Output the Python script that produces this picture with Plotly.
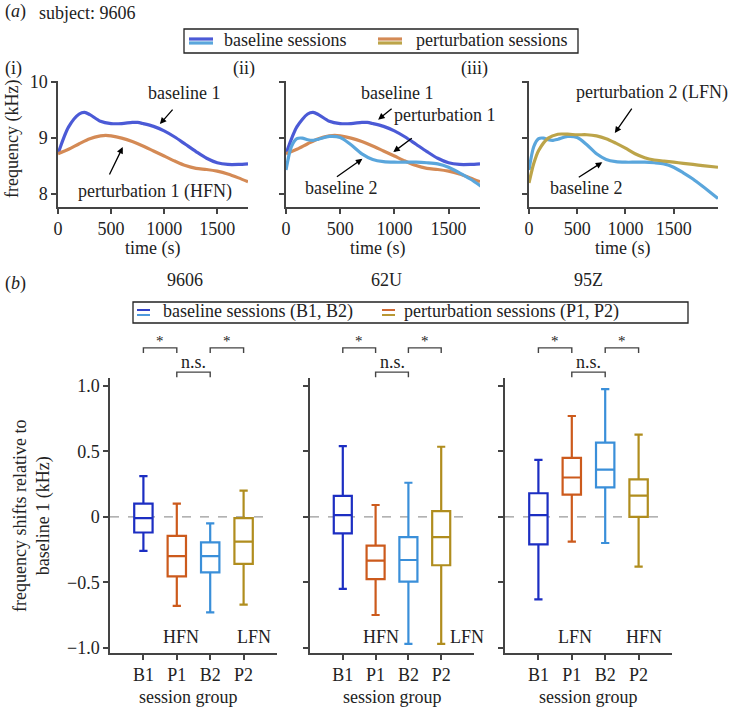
import plotly.graph_objects as go

W, H = 734, 708

# ---- (a) smoothed call frequency over a session, subject 9606 ----
t_b1 = [0, 100, 200, 250, 300, 400, 500, 600, 700, 750, 800, 900, 1000, 1100, 1200, 1300, 1400, 1500, 1600, 1700, 1790]
f_b1 = [8.72, 9.20, 9.43, 9.46, 9.42, 9.30, 9.26, 9.26, 9.28, 9.28, 9.26, 9.21, 9.13, 9.02, 8.89, 8.76, 8.64, 8.56, 8.53, 8.53, 8.54]

t_p1 = [0, 100, 200, 300, 400, 450, 500, 600, 700, 800, 900, 1000, 1100, 1200, 1300, 1400, 1500, 1600, 1700, 1790]
f_p1 = [8.72, 8.80, 8.90, 8.99, 9.04, 9.05, 9.04, 9.00, 8.94, 8.86, 8.77, 8.68, 8.59, 8.51, 8.46, 8.44, 8.41, 8.36, 8.29, 8.22]

t_b2 = [0, 50, 100, 150, 200, 250, 300, 400, 500, 600, 700, 800, 900, 1000, 1100, 1200, 1300, 1400, 1500, 1600, 1700, 1800, 1960]
f_b2 = [8.43, 8.85, 8.99, 9.00, 8.97, 8.96, 8.98, 9.03, 9.01, 8.88, 8.72, 8.62, 8.58, 8.57, 8.57, 8.57, 8.56, 8.54, 8.48, 8.38, 8.27, 8.14, 7.92]

t_p2 = [0, 50, 100, 200, 300, 400, 500, 600, 700, 800, 900, 1000, 1100, 1200, 1300, 1400, 1500, 1600, 1700, 1800, 1960]
f_p2 = [8.20, 8.55, 8.78, 9.00, 9.07, 9.07, 9.06, 9.06, 9.04, 8.99, 8.91, 8.82, 8.72, 8.65, 8.61, 8.59, 8.57, 8.55, 8.53, 8.51, 8.48]

time_ticks = [0, 500, 1000, 1500]
freq_ticks = [8, 9, 10]

# ---- (b) box summaries of frequency shift relative to baseline 1 ----
groups = ["B1", "P1", "B2", "P2"]
subjects = ["9606", "62U", "95Z"]

upper_9606 = [0.31, 0.10, -0.05, 0.20]
q3_9606 = [0.10, -0.145, -0.195, -0.01]
med_9606 = [-0.01, -0.30, -0.30, -0.19]
q1_9606 = [-0.12, -0.455, -0.425, -0.36]
lower_9606 = [-0.26, -0.68, -0.73, -0.67]

upper_62u = [0.54, 0.09, 0.26, 0.535]
q3_62u = [0.16, -0.22, -0.155, 0.043]
med_62u = [0.013, -0.335, -0.33, -0.155]
q1_62u = [-0.127, -0.476, -0.495, -0.37]
lower_62u = [-0.55, -0.75, -0.97, -0.97]

upper_95z = [0.435, 0.77, 0.975, 0.628]
q3_95z = [0.18, 0.45, 0.567, 0.286]
med_95z = [0.013, 0.30, 0.36, 0.162]
q1_95z = [-0.21, 0.17, 0.225, 0.0]
lower_95z = [-0.63, -0.19, -0.20, -0.38]

noise_labels_9606 = ["HFN", "LFN"]
noise_labels_62u = ["HFN", "LFN"]
noise_labels_95z = ["LFN", "HFN"]

shift_ticks = [-1.0, -0.5, 0, 0.5, 1.0]
shift_ticktext = ["\u22121.0", "\u22120.5", "0", "0.5", "1.0"]

# colours
c_b1_line, c_p1_line, c_b2_line, c_p2_line = "#4b5ad6", "#d48a55", "#5aa6dc", "#bca449"
c_b1_box, c_p1_box, c_b2_box, c_p2_box = "#1c2ec2", "#cc5a1c", "#3a8fd9", "#b08d1e"
box_colors = [c_b1_box, c_p1_box, c_b2_box, c_p2_box]
axis_col = "#444444"
FONT = "Liberation Serif"


def px_x(p):
    return p / W


def px_y(p):
    return 1 - p / H


fig = go.Figure()

# top row traces
top_panels = [
    (1, [(t_b1, f_b1, c_b1_line), (t_p1, f_p1, c_p1_line)]),
    (2, [(t_b1, f_b1, c_b1_line), (t_p1, f_p1, c_p1_line), (t_b2, f_b2, c_b2_line)]),
    (3, [(t_b2, f_b2, c_b2_line), (t_p2, f_p2, c_p2_line)]),
]
for k, series in top_panels:
    for t, f, col in series:
        fig.add_trace(
            go.Scatter(
                x=t, y=f, mode="lines", line=dict(color=col, width=3.2, shape="spline", smoothing=0.8),
                xaxis=f"x{k}", yaxis=f"y{k}", showlegend=False, hoverinfo="skip",
            )
        )

# bottom row boxes
box_sets = [
    (upper_9606, q3_9606, med_9606, q1_9606, lower_9606),
    (upper_62u, q3_62u, med_62u, q1_62u, lower_62u),
    (upper_95z, q3_95z, med_95z, q1_95z, lower_95z),
]
for j, (up, q3, md, q1, lo) in enumerate(box_sets):
    k = 4 + j
    for i, g in enumerate(groups):
        fig.add_trace(
            go.Box(
                x=[g], q1=[q1[i]], median=[md[i]], q3=[q3[i]],
                lowerfence=[lo[i]], upperfence=[up[i]],
                line=dict(color=box_colors[i], width=2.2), fillcolor="white",
                width=0.55, whiskerwidth=0.45, boxpoints=False,
                xaxis=f"x{k}", yaxis=f"y{k}", showlegend=False, hoverinfo="skip",
            )
        )

layout = dict(
    width=W, height=H, margin=dict(l=0, r=0, t=0, b=0, autoexpand=False),
    paper_bgcolor="white", plot_bgcolor="white",
    font=dict(family=FONT, size=18, color="#222222"),
    showlegend=False,
)

axis_common = dict(
    showline=True, linecolor=axis_col, linewidth=1.5, ticks="outside", ticklen=5,
    tickwidth=1.5, tickcolor=axis_col, showgrid=False, zeroline=False, automargin=False,
    tickfont=dict(size=18),
)

top_x_dom = [(58, 248), (286, 480), (529, 718)]
top_x_rng = [[0, 1790], [0, 1790], [0, 1960]]
top_y_dom = [px_y(207), px_y(81)]
for n in range(3):
    k = n + 1
    sfx = "" if k == 1 else str(k)
    layout[f"xaxis{sfx}"] = dict(
        axis_common, domain=[px_x(top_x_dom[n][0]), px_x(top_x_dom[n][1])], range=top_x_rng[n],
        tickvals=time_ticks, anchor=f"y{sfx}",
    )
    layout[f"yaxis{sfx}"] = dict(
        axis_common, domain=top_y_dom, range=[7.77, 10.02], tickvals=freq_ticks,
        showticklabels=(k == 1), anchor=f"x{sfx}",
    )

bot_x_dom = [(110, 277), (310, 474), (505, 672)]
bot_y_dom = [px_y(653), px_y(378)]
x_rng = [-1, 4]
y_rng = [-1.04, 1.06]
for n in range(3):
    k = n + 4
    layout[f"xaxis{k}"] = dict(
        axis_common, domain=[px_x(bot_x_dom[n][0]), px_x(bot_x_dom[n][1])], type="category",
        categoryorder="array", categoryarray=groups, range=x_rng, anchor=f"y{k}",
    )
    layout[f"yaxis{k}"] = dict(
        axis_common, domain=bot_y_dom, range=y_rng, tickvals=shift_ticks,
        ticktext=shift_ticktext, showticklabels=(n == 0), anchor=f"x{k}",
    )

fig.update_layout(**layout)

shapes = []
ann = []


def text_at(txt, cx, cy, **kw):
    d = dict(xref="paper", yref="paper", x=px_x(cx), y=px_y(cy), text=txt, showarrow=False,
             xanchor="center", yanchor="middle")
    d.update(kw)
    ann.append(d)


# dashed zero lines
for n in range(3):
    k = n + 4
    shapes.append(dict(type="line", xref=f"x{k}", yref=f"y{k}", x0=-1, x1=3.85, y0=0, y1=0,
                       line=dict(color="#999999", width=1.3, dash="dash"), layer="below"))


def cat_dom(i):
    return (i - x_rng[0]) / (x_rng[1] - x_rng[0])


def val_dom(v):
    return (v - y_rng[0]) / (y_rng[1] - y_rng[0])


# significance brackets
pairs = [(0, 1, "*", 1.29, 1.25), (2, 3, "*", 1.29, 1.25), (1, 2, "n.s.", 1.105, 1.065)]
for n in range(3):
    k = n + 4
    for a, b, lab, ytop, ybot in pairs:
        xa, xb = cat_dom(a), cat_dom(b)
        yt, yb = val_dom(ytop), val_dom(ybot)
        shapes.append(dict(type="path", xref=f"x{k} domain", yref=f"y{k} domain",
                           path=f"M {xa} {yb} L {xa} {yt} L {xb} {yt} L {xb} {yb}",
                           line=dict(color=axis_col, width=1.4)))
        ann.append(dict(xref=f"x{k} domain", yref=f"y{k} domain", x=(xa + xb) / 2, y=yt,
                        text=lab, showarrow=False, xanchor="center", yanchor="bottom",
                        font=dict(size=15 if lab == "*" else 18), yshift=-3 if lab == "*" else -2))

# noise labels inside box panels
noise_sets = [noise_labels_9606, noise_labels_62u, noise_labels_95z]
noise_x = [(1.12, 3.3), (1.15, 3.8), (1.1, 3.15)]
for n in range(3):
    k = n + 4
    for lab, xv in zip(noise_sets[n], noise_x[n]):
        ann.append(dict(xref=f"x{k}", yref=f"y{k}", x=xv, y=-0.92, text=lab, showarrow=False,
                        xanchor="center", yanchor="middle"))

# subplot titles for (b) and axis titles
for name, cx in zip(subjects, [185, 386, 588]):
    text_at(name, cx, 280)
for cx in [153, 378, 623]:
    text_at("time (s)", cx, 248)
for cx in [188, 392, 588]:
    text_at("session group", cx, 697)

# arrows and labels in (a)
arrow = dict(showarrow=True, arrowhead=2, arrowsize=1, arrowwidth=1.3, arrowcolor="black",
             text="", standoff=0)
arrows = [
    (1, 960, 9.25, 14, -16), (1, 610, 8.84, -14, 29),
    (2, 850, 9.33, 15, -12), (2, 990, 8.75, 20, -15), (2, 705, 8.63, -27, 19),
    (3, 890, 9.09, 18, -26), (3, 760, 8.57, -25, 16),
]
for k, xv, yv, dx, dy in arrows:
    ann.append(dict(arrow, xref=f"x{k}", yref=f"y{k}", x=xv, y=yv, ax=dx, ay=dy))

labels = [
    ("baseline 1", 184, 93), ("perturbation 1 (HFN)", 155, 191),
    ("baseline 1", 397, 93), ("perturbation 1", 444, 115), ("baseline 2", 341, 188),
    ("perturbation 2 (LFN)", 652, 93), ("baseline 2", 586, 188),
]
for txt, cx, cy in labels:
    text_at(txt, cx, cy)

# panel tags and headings
tags = [
    ("(<i>a</i>)", 3, 12), ("subject: 9606", 37, 13),
    ("(i)", 3, 69), ("(ii)", 231, 69), ("(iii)", 459, 69),
    ("(<i>b</i>)", 3, 283),
]
for txt, x0, cy in tags:
    text_at(txt, x0, cy, xanchor="left")

text_at("frequency (kHz)", 12, 139, textangle=-90)
text_at("frequency shifts relative to<br>baseline 1 (kHz)", 32, 516, textangle=-90)


# hand-drawn legends with two-tone swatches
def legend_box(x0, x1, y0, y1, entries, sw_w, lw, gap):
    shapes.append(dict(type="rect", xref="paper", yref="paper", x0=px_x(x0), x1=px_x(x1),
                       y0=px_y(y1), y1=px_y(y0), line=dict(color="#222222", width=1.3)))
    cy = (y0 + y1) / 2
    for sx, tx, cols, txt in entries:
        for off, col in zip([-gap / 2, gap / 2], cols):
            shapes.append(dict(type="line", xref="paper", yref="paper", x0=px_x(sx), x1=px_x(sx + sw_w),
                               y0=px_y(cy + off), y1=px_y(cy + off), line=dict(color=col, width=lw)))
        text_at(txt, tx, cy - 1, xanchor="left")


legend_box(184, 578, 29, 53,
           [(189, 222, (c_b1_line, c_b2_line), "baseline sessions"),
            (378, 414, (c_p1_line, c_p2_line), "perturbation sessions")], 24, 3.2, 4)
legend_box(133, 688, 302, 323,
           [(137, 161, (c_b1_box, c_b2_box), "baseline sessions (B1, B2)"),
            (382, 402, (c_p1_box, c_p2_box), "perturbation sessions (P1, P2)")], 13, 1.8, 5)

fig.update_layout(shapes=shapes, annotations=ann)

fig.write_html("out.html", config={"displayModeBar": False},
               post_script="document.body.style.margin='0';")
